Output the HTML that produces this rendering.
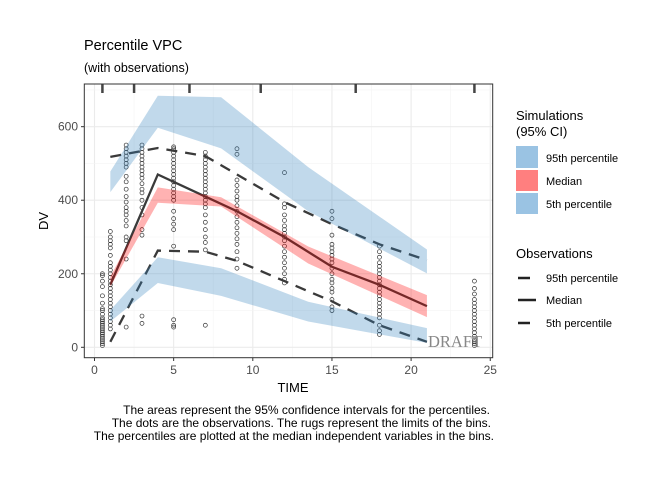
<!DOCTYPE html>
<html><head><meta charset="utf-8"><style>
body{margin:0;background:#fff;}
svg text{font-family:"Liberation Sans",sans-serif;}
</style></head><body>
<svg id="chart" width="672" height="480" xmlns="http://www.w3.org/2000/svg">
<text x="84" y="50" font-size="14.5" fill="#000">Percentile VPC</text>
<text x="84" y="72" font-size="12.5" fill="#000">(with observations)</text>
<rect x="84.3" y="84" width="408.4" height="273.7" fill="#fff"/>
<g id="grid"></g>
<g id="pts"></g>
<g id="lines"></g>
<g id="bands"></g>
<g id="rug"></g>
<text x="428" y="347" font-size="16.5" fill="#888" style="font-family:'Liberation Serif',serif">DRAFT</text>
<rect x="84.3" y="84" width="408.4" height="273.7" fill="none" stroke="#333" stroke-width="1"/>
<g id="axes"></g>
<text x="293" y="392" font-size="13" text-anchor="middle">TIME</text>
<text transform="translate(48,221) rotate(-90)" font-size="13" text-anchor="middle">DV</text>
<g font-size="12" text-anchor="end">
<text x="490" y="414">The areas represent the 95% confidence intervals for the percentiles.</text>
<text x="491" y="427">The dots are the observations. The rugs represent the limits of the bins.</text>
<text x="494" y="440">The percentiles are plotted at the median independent variables in the bins.</text>
</g>
<g>
<text x="516" y="120" font-size="13">Simulations</text>
<text x="516" y="136" font-size="13">(95% CI)</text>
<rect x="516" y="146" width="22" height="22" fill="#9ac3e3"/>
<rect x="516" y="170" width="22" height="21" fill="#ff7f7f"/>
<rect x="516" y="193" width="22" height="21" fill="#9ac3e3"/>
<text x="546" y="162" font-size="11">95th percentile</text>
<text x="546" y="185" font-size="11">Median</text>
<text x="546" y="208" font-size="11">5th percentile</text>
<text x="516" y="258" font-size="13">Observations</text>
<line x1="518" y1="278" x2="530" y2="278" stroke="#222" stroke-width="2.5"/>
<line x1="518" y1="300" x2="536" y2="300" stroke="#222" stroke-width="2.5"/>
<line x1="518" y1="323" x2="530" y2="323" stroke="#222" stroke-width="2.5"/>
<text x="546" y="282" font-size="11">95th percentile</text>
<text x="546" y="304" font-size="11">Median</text>
<text x="546" y="327" font-size="11">5th percentile</text>
</g>
</svg>
<script>
const simX=[1,4,8,13.5,21];
const sim95Lo=[422,597,541,370,201];
const sim95Hi=[478,684,680,490,266];
const sim50Lo=[165,393,383,228,82];
const sim50Hi=[192,435,408,274,142];
const sim5Lo=[70,175,140,70,12];
const sim5Hi=[101,245,215,124,52];
const obsX=[1,4,7,9,12,15,18,21];
const obs95=[518,542,520,470,395,335,280,237];
const obs50=[170,470,410,370,300,219,170,112];
const obs5=[15,263,260,235,180,125,60,15];
const rugX=[0.5,2.5,6,10.5,16.5,24];
const xTicks=[0,5,10,15,20,25];
const yTicks=[0,200,400,600];
const obsTimes=[0.5,1,2,3,5,7,9,12,15,18,24];
const obsDV=[
[5,10,15,20,25,30,35,40,45,50,55,60,65,70,75,80,90,100,105,120,140,165,180,195,200],
[50,60,70,80,90,100,110,120,130,140,150,160,170,180,190,200,210,220,230,250,270,280,290,300,315],
[55,240,290,300,330,345,360,370,380,395,410,430,450,465,490,500,510,520,530,540,550],
[65,85,305,320,360,380,400,420,430,445,460,470,480,490,500,510,520,530,540,550],
[55,60,75,275,320,335,350,370,400,410,420,430,440,450,460,470,480,490,500,510,520,530,540,545],
[60,265,285,300,320,340,360,380,390,400,410,420,430,440,450,460,470,480,490,500,510,520,530],
[215,240,260,280,295,310,325,340,355,370,385,400,410,425,440,455,525,540],
[175,185,200,215,230,245,260,275,290,300,310,320,330,345,360,380,390,475],
[100,110,130,150,160,175,185,200,215,230,240,250,260,270,280,305,350,370],
[35,45,60,80,90,100,110,120,130,140,150,160,170,180,190,200,210,220,230,245,260,275],
[5,10,15,20,30,40,50,60,70,80,90,100,110,120,130,145,160,180]
];
const NS="http://www.w3.org/2000/svg";
function sx(v){return 94.5+v*15.83;}
function sy(v){return 347.3-v*0.3677;}
function mk(tag,attrs,parent){const e=document.createElementNS(NS,tag);for(const k in attrs)e.setAttribute(k,attrs[k]);document.getElementById(parent).appendChild(e);return e;}
for(let i=0;i<xTicks.length;i++){
  const g=mk('line',{x1:sx(xTicks[i]),x2:sx(xTicks[i]),y1:84,y2:357.7,stroke:'#ebebeb','stroke-width':1.1},'grid');
  
  
  if(i<xTicks.length-1){const m=mk('line',{x1:sx(xTicks[i]+2.5),x2:sx(xTicks[i]+2.5),y1:84,y2:357.7,stroke:'#f4f4f4','stroke-width':0.6},'grid');
  
  }
}
for(let i=0;i<yTicks.length;i++){
  const g=mk('line',{x1:84.3,x2:492.7,y1:sy(yTicks[i]),y2:sy(yTicks[i]),stroke:'#ebebeb','stroke-width':1.1},'grid');
  
  
  const m=mk('line',{x1:84.3,x2:492.7,y1:sy(yTicks[i]+100),y2:sy(yTicks[i]+100),stroke:'#f4f4f4','stroke-width':0.6},'grid');
  
  
}
obsTimes.forEach((t,i)=>{obsDV[i].forEach(v=>{
  const c=mk('circle',{cx:sx(t),cy:sy(v),r:2,fill:'none',stroke:'#333','stroke-width':0.7},'pts');
  
  
});});
function pl(arr,dash,name){
  const p=arr.map((v,i)=>sx(obsX[i])+','+sy(v)).join(' ');
  const e=mk('polyline',{points:p,fill:'none',stroke:'#3a3a3a','stroke-width':2.3,'stroke-dasharray':dash},'lines');
  
  
}
pl(obs95,'11,8','obs-95th-line');
pl(obs50,'none','obs-median-line');
pl(obs5,'11,8','obs-5th-line');
function band(lo,hi,col,name){
  const pts=simX.map((x,i)=>sx(x)+','+sy(hi[i])).concat(simX.map((x,i)=>sx(x)+','+sy(lo[i])).reverse()).join(' ');
  const e=mk('polygon',{points:pts,fill:col,'fill-opacity':0.3},'bands');
  
  
}
band(sim95Lo,sim95Hi,'#3182bd','sim-95th-band');
band(sim50Lo,sim50Hi,'#ff0000','sim-median-band');
band(sim5Lo,sim5Hi,'#3182bd','sim-5th-band');
rugX.forEach(x=>{
  const r=mk('line',{x1:sx(x),x2:sx(x),y1:84,y2:93,stroke:'#444','stroke-width':2.5},'rug');
  
  
});
xTicks.forEach(t=>{
  const l=mk('line',{x1:sx(t),x2:sx(t),y1:357.7,y2:361,stroke:'#333'},'axes');
  
  
  const tx=mk('text',{x:sx(t),y:374,'font-size':12,'text-anchor':'middle',fill:'#4d4d4d'},'axes');
  tx.textContent=t;
  
  
});
yTicks.forEach(t=>{
  const l=mk('line',{x1:81,x2:84.3,y1:sy(t),y2:sy(t),stroke:'#333'},'axes');
  
  
  const tx=mk('text',{x:78,y:sy(t)+4,'font-size':12,'text-anchor':'end',fill:'#4d4d4d'},'axes');
  tx.textContent=t;
  
  
});
</script>
</body></html>
